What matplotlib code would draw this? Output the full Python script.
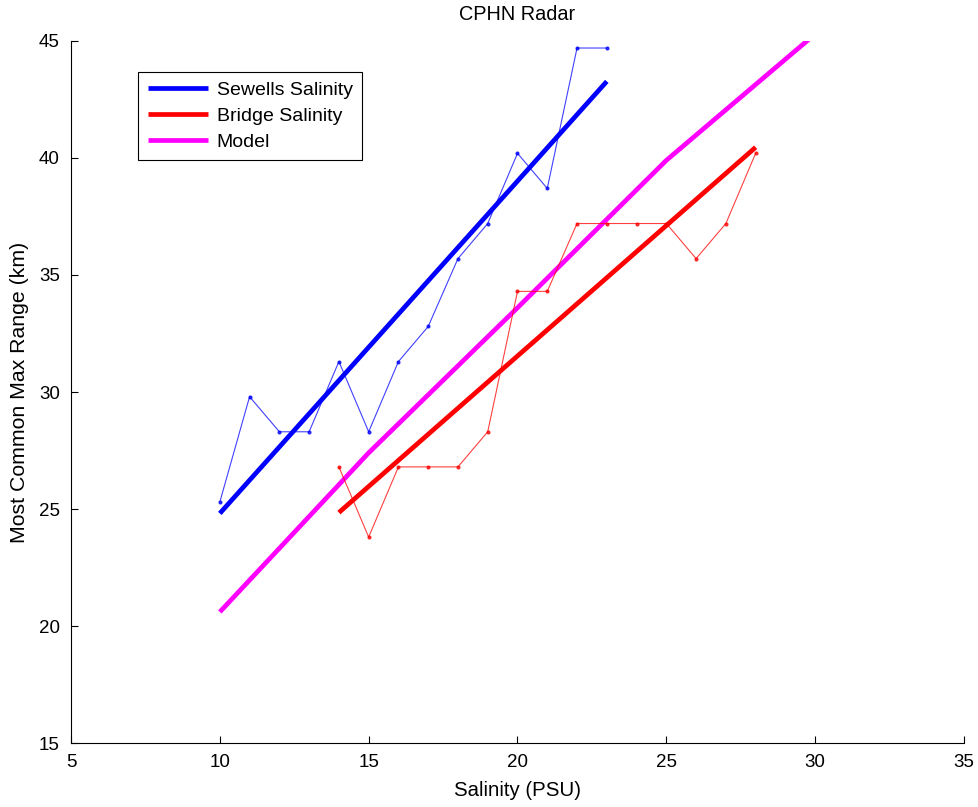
import numpy as np
import matplotlib
matplotlib.use("Agg")
import matplotlib.pyplot as plt

plt.rcParams['font.family'] = ['Liberation Sans', 'DejaVu Sans']

# Sewells Point salinity vs. most common max range
sewells_sal = [10, 11, 12, 13, 14, 15, 16, 17, 18, 19, 20, 21, 22, 23]
sewells_rng = [25.3, 29.8, 28.3, 28.3, 31.3, 28.3, 31.3, 32.8, 35.7, 37.2, 40.2, 38.7, 44.7, 44.7]

# Bridge salinity vs. most common max range
bridge_sal = [14, 15, 16, 17, 18, 19, 20, 21, 22, 23, 24, 25, 26, 27, 28]
bridge_rng = [26.8, 23.8, 26.8, 26.8, 26.8, 28.3, 34.3, 34.3, 37.2, 37.2, 37.2, 37.2, 35.7, 37.2, 40.2]

# Model curve
model_sal = [10, 15, 20, 25, 30]
model_rng = [20.6, 27.4, 33.6, 39.9, 45.3]

x_ticks = [5, 10, 15, 20, 25, 30, 35]
y_ticks = [15, 20, 25, 30, 35, 40, 45]

fig = plt.figure(figsize=(9.79, 8.07), dpi=100)
ax = fig.add_axes([0.0725, 0.0793, 0.9122, 0.8699])

# least-squares fits of each station
sx = np.array(sewells_sal, dtype=float)
bx = np.array(bridge_sal, dtype=float)
s_fit = np.polyval(np.polyfit(sx, sewells_rng, 1), sx)
b_fit = np.polyval(np.polyfit(bx, bridge_rng, 1), bx)

ax.plot(sx, s_fit, color='#0000ff', lw=3.4, label='Sewells Salinity', solid_capstyle='butt')
ax.plot(bx, b_fit, color='#ff0000', lw=3.4, label='Bridge Salinity', solid_capstyle='butt')
ax.plot(model_sal, model_rng, color='#ff00ff', lw=3.4, label='Model', solid_capstyle='butt')

ax.plot(sewells_sal, sewells_rng, color='#0000ff', lw=0.8, marker='.', ms=4, alpha=0.75)
ax.plot(bridge_sal, bridge_rng, color='#ff0000', lw=0.8, marker='.', ms=4, alpha=0.75)

ax.set_xlim(5, 35)
ax.set_ylim(15, 45)
ax.set_xticks(x_ticks)
ax.set_yticks(y_ticks)
ax.tick_params(direction='in', labelsize=13.5, length=5, width=0.8, pad=8)
for side in ('top', 'right'):
    ax.spines[side].set_visible(False)
for side in ('left', 'bottom'):
    ax.spines[side].set_linewidth(0.8)

ax.set_title('CPHN Radar', fontsize=14.3, pad=15)
ax.set_xlabel('Salinity (PSU)', fontsize=14.7, labelpad=7)
ax.set_ylabel('Most Common Max Range (km)', fontsize=15.3, labelpad=7)

leg = ax.legend(loc='upper left', bbox_to_anchor=(0.075, 0.956), borderaxespad=0,
                fontsize=14, fancybox=False, framealpha=1, edgecolor='black',
                handlelength=3.1, handletextpad=0.45, labelspacing=0.42, borderpad=0.5)
leg.get_frame().set_linewidth(0.8)

fig.savefig('out.png', dpi=100)
